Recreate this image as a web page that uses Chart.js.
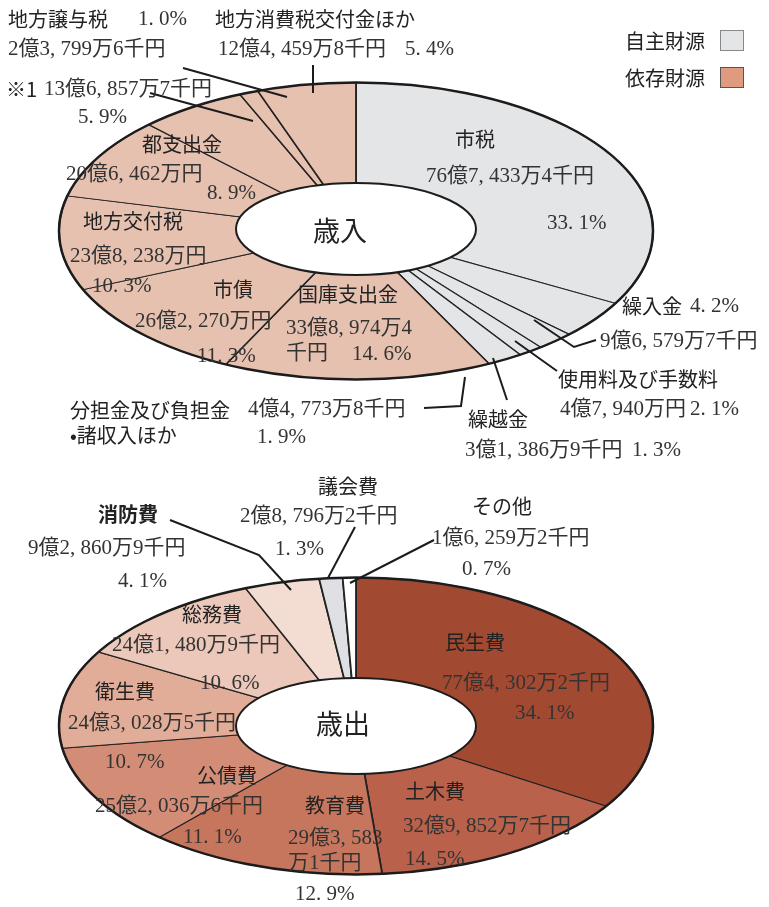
<!DOCTYPE html>
<html lang="ja">
<head>
<meta charset="UTF-8">
<title>歳入・歳出</title>
<script src="https://cdn.jsdelivr.net/npm/chart.js"></script>
<style>
  html, body { margin: 0; padding: 0; background: #fff; }
  #wrap { position: relative; width: 769px; height: 907px; overflow: hidden; }
  canvas { position: absolute; left: 0; top: 0; }
  .lb { position: absolute; white-space: pre; line-height: 25px; transform: translateY(-50%); color: #222; }
  .nm { font-family: "Noto Sans CJK JP", sans-serif; font-size: 20px; }
  .nu { font-family: "Liberation Serif", "Noto Sans CJK JP", serif; font-size: 21px; color: #333; }
  .big { font-family: "Noto Sans CJK JP", sans-serif; font-size: 27px; }
  .box { position: absolute; width: 22px; height: 19px; }
</style>
</head>
<body>
<div id="wrap">
  <canvas id="rev" width="769" height="907"></canvas>
  <canvas id="exp" width="769" height="907"></canvas>
</div>
<script>
  // 歳入（万円）
  const revLabels = ["市税", "繰入金", "使用料及び手数料", "繰越金", "分担金及び負担金\n•諸収入ほか",
    "国庫支出金", "市債", "地方交付税", "都支出金", "※1", "地方譲与税", "地方消費税交付金ほか"];
  const revValues = [767433.4, 96579.7, 47940, 31386.9, 44773.8,
    338974.4, 262270, 238238, 206462, 136857.7, 23799.6, 124459.8];
  const revPct = [33.1, 4.2, 2.1, 1.3, 1.9, 14.6, 11.3, 10.3, 8.9, 5.9, 1.0, 5.4];
  const revOwn = [true, true, true, true, true, false, false, false, false, false, false, false];

  // 歳出（万円）
  const expLabels = ["民生費", "土木費", "教育費", "公債費", "衛生費", "総務費", "消防費", "議会費", "その他"];
  const expValues = [774302.2, 329852.7, 293583.1, 252036.6, 243028.5, 241480.9, 92860.9, 28796.2, 16259.2];
  const expPct = [34.1, 14.5, 12.9, 11.1, 10.7, 10.6, 4.1, 1.3, 0.7];

  const legendLabels = ["自主財源", "依存財源"];

  const OWN = "#e4e5e7", DEP = "#e6c1b0";
  const expColors = ["#a24a31", "#b9614a", "#c7765e", "#d38d77", "#e1ac98", "#ebc8b9", "#f3ddd3", "#dfe0e3", "#ffffff"];

  function yen(v) {
    const oku = Math.floor(v / 10000);
    const man = Math.floor(v % 10000 + 1e-6);
    const sen = Math.round((v - Math.floor(v)) * 10);
    let m = man >= 1000 ? Math.floor(man / 1000) + ", " + String(man % 1000).padStart(3, "0") : String(man);
    return oku + "億" + m + "万" + (sen ? sen + "千円" : "円");
  }
  const pct = p => p.toFixed(1).replace(".", ". ") + "%";

  function ellipse(cfg) {
    return {
      id: "ellipse",
      beforeDatasetsDraw(chart) {
        const a = chart.getDatasetMeta(0).data[0];
        const ctx = chart.ctx;
        ctx.save();
        ctx.translate(a.x, cfg.cy);
        ctx.scale(1, cfg.sy);
        ctx.translate(-a.x, -a.y);
      },
      afterDatasetsDraw(chart) {
        const ctx = chart.ctx;
        ctx.restore();
        const a = chart.getDatasetMeta(0).data[0];
        ctx.strokeStyle = "#1c1c1c";
        ctx.beginPath();
        ctx.ellipse(a.x, cfg.cy, a.outerRadius, a.outerRadius * cfg.sy, 0, 0, Math.PI * 2);
        ctx.lineWidth = 2.5;
        ctx.stroke();
        ctx.beginPath();
        ctx.ellipse(a.x, cfg.holeY, cfg.holeRx, cfg.holeRy, 0, 0, Math.PI * 2);
        ctx.fillStyle = "#fff";
        ctx.fill();
        ctx.lineWidth = 2;
        ctx.stroke();
        // 引き出し線
        ctx.lineWidth = 2;
        cfg.leaders.forEach(pts => {
          ctx.beginPath();
          pts.forEach(([x, y], i) => i ? ctx.lineTo(x, y) : ctx.moveTo(x, y));
          ctx.stroke();
        });
      }
    };
  }

  function makePie(id, labels, values, colors, cfg) {
    new Chart(document.getElementById(id), {
      type: "pie",
      data: { labels, datasets: [{ data: values, backgroundColor: colors, borderColor: "#222", borderWidth: 1.8 }] },
      options: {
        responsive: false,
        animation: false,
        radius: 297,
        layout: { padding: { right: 57 } },
        plugins: { legend: { display: false }, tooltip: { enabled: false } },
        events: []
      },
      plugins: [ellipse(cfg)]
    });
  }

  makePie("rev", revLabels, revValues, revOwn.map(o => o ? OWN : DEP), {
    cy: 231, sy: 0.5, holeY: 229, holeRx: 120, holeRy: 46,
    leaders: [
      [[183, 68], [287, 97]],
      [[150, 93], [253, 121]],
      [[313, 65], [313, 93]],
      [[534, 320], [574, 347], [596, 340]],
      [[515, 341], [557, 371]],
      [[493, 358], [507, 400]],
      [[465, 377], [461, 406], [424, 408]]
    ]
  });

  makePie("exp", expLabels, expValues, expColors, {
    cy: 726, sy: 0.5, holeY: 726, holeRx: 120, holeRy: 48,
    leaders: [
      [[170, 520], [259, 555], [291, 590]],
      [[355, 527], [328, 578]],
      [[434, 540], [350, 583]]
    ]
  });

  // ラベル配置: [種類, 添字, x, y, 改行位置]
  const revLayout = [
    ["n", 0, 455, 138], ["a", 0, 426, 175], ["p", 0, 547, 222],
    ["n", 1, 622, 305], ["p", 1, 690, 305], ["a", 1, 600, 340],
    ["n", 2, 558, 378], ["a", 2, 560, 408], ["p", 2, 690, 408],
    ["n", 3, 468, 418], ["a", 3, 465, 449], ["p", 3, 632, 449],
    ["n", 4, 70, 422], ["a", 4, 248, 408], ["p", 4, 257, 436],
    ["n", 5, 298, 293], ["a", 5, 286, 340, 11], ["p", 5, 352, 353],
    ["n", 6, 213, 288], ["a", 6, 135, 320], ["p", 6, 197, 355],
    ["n", 7, 83, 220], ["a", 7, 70, 255], ["p", 7, 92, 285],
    ["n", 8, 142, 143], ["a", 8, 66, 173], ["p", 8, 207, 192],
    ["n", 9, 6, 88], ["a", 9, 44, 88], ["p", 9, 78, 116],
    ["n", 10, 8, 18], ["p", 10, 138, 18], ["a", 10, 8, 48],
    ["n", 11, 215, 18], ["a", 11, 218, 48], ["p", 11, 405, 48]
  ];
  const expLayout = [
    ["n", 0, 445, 641], ["a", 0, 442, 682], ["p", 0, 515, 712],
    ["n", 1, 405, 790], ["a", 1, 403, 825], ["p", 1, 405, 858],
    ["n", 2, 305, 804], ["a", 2, 288, 850, 9], ["p", 2, 295, 893],
    ["n", 3, 197, 774], ["a", 3, 95, 805], ["p", 3, 183, 836],
    ["n", 4, 95, 690], ["a", 4, 68, 722], ["p", 4, 105, 761],
    ["n", 5, 182, 613], ["a", 5, 112, 644], ["p", 5, 200, 682],
    ["n", 6, 98, 513], ["a", 6, 28, 547], ["p", 6, 118, 580],
    ["n", 7, 318, 485], ["a", 7, 240, 515], ["p", 7, 275, 548],
    ["n", 8, 472, 505], ["a", 8, 432, 537], ["p", 8, 462, 568]
  ];

  const wrap = document.getElementById("wrap");
  function put(text, cls, x, y) {
    const d = document.createElement("div");
    d.className = "lb " + cls;
    d.textContent = text;
    d.style.left = x + "px";
    d.style.top = y + "px";
    wrap.appendChild(d);
    return d;
  }
  function place(layout, labels, values, pcts) {
    layout.forEach(([k, i, x, y, br]) => {
      if (k === "n") {
        const d = put(labels[i], "nm", x, y);
        if (labels[i] === "消防費") d.style.fontWeight = "700";
      } else if (k === "p") put(pct(pcts[i]), "nu", x, y);
      else {
        let s = yen(values[i]);
        if (br) s = s.slice(0, br) + "\n" + s.slice(br);
        put(s, "nu", x, y);
      }
    });
  }
  place(revLayout, revLabels, revValues, revPct);
  place(expLayout, expLabels, expValues, expPct);

  put("歳入", "big", 313, 229);
  put("歳出", "big", 316, 722);

  // 凡例
  put(legendLabels[0], "nm", 625, 40);
  put(legendLabels[1], "nm", 625, 77);
  [[OWN, "#888", 30], ["#e09a80", "#555", 67]].forEach(([bg, bd, t]) => {
    const b = document.createElement("div");
    b.className = "box";
    b.style.cssText = `left:720px;top:${t}px;background:${bg};border:1.5px solid ${bd};`;
    wrap.appendChild(b);
  });
</script>
</body>
</html>
